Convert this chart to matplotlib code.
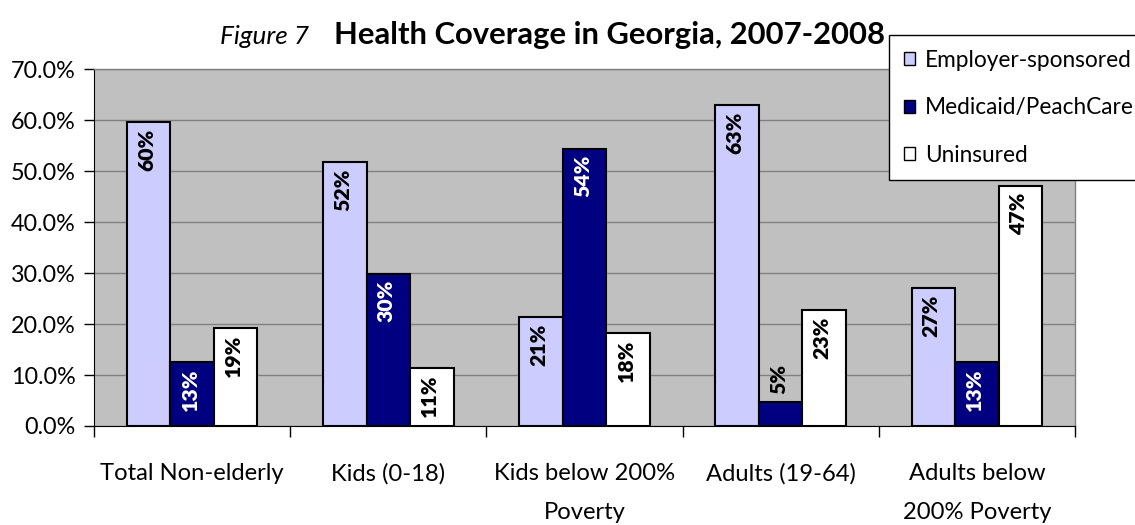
import numpy as np
import matplotlib
matplotlib.use("Agg")
import matplotlib.pyplot as plt
from matplotlib.patches import Patch
from matplotlib.ticker import FixedLocator, FuncFormatter

# Coverage shares (%) by population group
categories = ["Total Non-elderly", "Kids (0-18)", "Kids below 200%\nPoverty",
              "Adults (19-64)", "Adults below\n200% Poverty"]
employer = [59.6, 51.8, 21.4, 62.9, 27.1]
medicaid = [12.6, 29.9, 54.4, 4.8, 12.6]
uninsured = [19.2, 11.4, 18.2, 22.7, 47.1]

series_names = ["Employer-sponsored", "Medicaid/PeachCare", "Uninsured"]
series_colors = ["#CCCCFF", "#000080", "#FFFFFF"]
label_colors = ["black", "white", "black"]
y_ticks = [0, 10, 20, 30, 40, 50, 60, 70]

plt.rcParams["font.family"] = ["Lato", "DejaVu Sans"]

W, H = 1135, 525
fig = plt.figure(figsize=(W / 100, H / 100), dpi=100)
ax = fig.add_axes([94 / W, 1 - 426 / H, (1075 - 94) / W, (426 - 69.3) / H])
ax.set_facecolor("#C0C0C0")

x = np.arange(len(categories))
bw = 0.222
all_series = [employer, medicaid, uninsured]
for i, (vals, col, lcol, name) in enumerate(zip(all_series, series_colors,
                                                 label_colors, series_names)):
    pos = x + (i - 1) * bw
    ax.bar(pos, vals, width=bw, color=col, edgecolor="black",
           linewidth=1.5, label=name, zorder=3)
    for xp, v in zip(pos, vals):
        txt = f"{v:.0f}%"
        if v >= 8:
            ax.annotate(txt, (xp, v), xytext=(-1.5, -4.5), textcoords="offset points",
                        ha="center", va="top", rotation=90, fontsize=15.3,
                        fontweight="heavy", color=lcol, zorder=4)
        else:
            ax.annotate(txt, (xp, v), xytext=(-1.5, 5.5), textcoords="offset points",
                        ha="center", va="bottom", rotation=90, fontsize=15.3,
                        fontweight="heavy", color="black", zorder=4)

ax.set_xlim(-0.5, len(categories) - 0.5)
ax.set_ylim(0, 70)
ax.yaxis.set_major_locator(FixedLocator(y_ticks))
ax.yaxis.set_major_formatter(FuncFormatter(lambda v, p: f"{v:.1f}%"))
ax.grid(axis="y", color="#808080", linewidth=1.0, zorder=0)
ax.set_axisbelow(True)

# Category boundaries get the tick marks; names sit at the group centres
ax.set_xticks(np.arange(-0.5, len(categories), 1.0))
ax.set_xticklabels([])
ax.set_xticks(x, minor=True)
ax.set_xticklabels(categories, minor=True, fontsize=17.1, linespacing=2.05)
ax.tick_params(axis="x", which="major", direction="out", length=8,
               width=1, color="black")
ax.tick_params(axis="x", which="minor", length=0, pad=27)
ax.tick_params(axis="y", direction="out", length=7, width=1, color="black",
               labelsize=16.8, pad=6)

for side in ["top", "right"]:
    ax.spines[side].set_color("#808080")
    ax.spines[side].set_linewidth(1.0)
ax.spines["left"].set_color("black")
ax.spines["bottom"].set_color("black")

fig.text(220 / W, 1 - 44 / H, "Figure 7", fontsize=18.8, style="italic",
         ha="left", va="baseline")
fig.text(334 / W, 1 - 44 / H, "Health Coverage in Georgia, 2007-2008",
         fontsize=22.3, fontweight="bold", ha="left", va="baseline")

handles = [Patch(facecolor=c, edgecolor="black", linewidth=1.0)
           for c in series_colors]
leg = fig.legend(handles, series_names, loc="upper left",
                 bbox_to_anchor=(889 / W, 1 - 35 / H),
                 bbox_transform=fig.transFigure, borderaxespad=0,
                 fontsize=16.3, frameon=True, fancybox=False, framealpha=1,
                 edgecolor="black", labelspacing=1.17, borderpad=0.65,
                 handlelength=0.5, handleheight=0.5, handletextpad=0.44)
leg.get_frame().set_linewidth(1.0)

fig.savefig("out.png", dpi=100)
